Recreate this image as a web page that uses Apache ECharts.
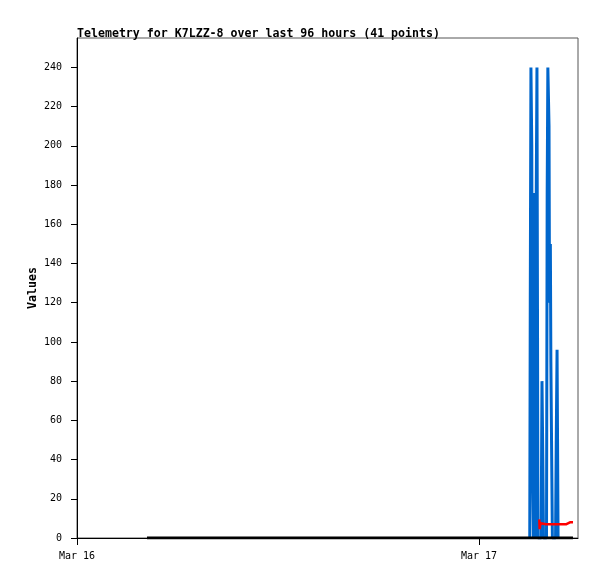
<!DOCTYPE html>
<html>
<head>
<meta charset="utf-8">
<script src="https://cdn.jsdelivr.net/npm/echarts@6/dist/echarts.min.js"></script>
<style>
  html, body { margin: 0; padding: 0; background: #fff; }
  #chart { width: 597px; height: 579px; }
</style>
</head>
<body>
<div id="chart"></div>
<script>
// hours since Mar 16 00:00
const blueHours = [27.03, 27.06, 27.10, 27.15, 27.19, 27.25, 27.30, 27.36, 27.42, 27.46, 27.52,
  27.71, 27.76, 27.81, 27.85, 28.03, 28.07, 28.11, 28.18, 28.21, 28.26, 28.29, 28.35, 28.38,
  28.57, 28.61, 28.66, 28.69, 28.72];
const blueValues = [0, 120, 240, 200, 40, 0, 176, 0, 180, 240, 0,
  0, 80, 40, 0, 0, 176, 240, 210, 120, 150, 90, 30, 0,
  0, 48, 96, 48, 0];

const redHours = [27.60, 27.62, 27.67, 27.76, 28.00, 28.30, 28.60, 28.90, 29.19, 29.31, 29.43, 29.61];
const redValues = [9.5, 4.5, 7.5, 7, 7, 7, 7, 7, 7, 7.5, 8, 8];

const blackHours = [4.18, 27.03, 27.60, 28.30, 29.00, 29.61];
const blackValues = [0, 0, 0, 0, 0, 0];

const xTickHours = [0, 24];
const xTickLabels = ['Mar 16', 'Mar 17'];
const yTicks = [0, 20, 40, 60, 80, 100, 120, 140, 160, 180, 200, 220, 240];

const chart = echarts.init(document.getElementById('chart'));
const mono = 'DejaVu Sans Mono';

function pairs(xs, ys) {
  return xs.map((x, i) => [x, ys[i]]);
}

chart.setOption({
  animation: false,
  title: {
    text: 'Telemetry for K7LZZ-8 over last 96 hours (41 points)',
    left: 72,
    top: 23,
    textStyle: { fontFamily: mono, fontSize: 11.6, fontWeight: 'bold', color: '#000' }
  },
  grid: {
    left: 77, right: 19, top: 38, bottom: 41,
    show: true, borderColor: '#555', borderWidth: 1
  },
  xAxis: {
    type: 'value',
    min: 0,
    max: 29.91,
    axisLine: { show: true, lineStyle: { color: '#000' } },
    axisTick: { show: true, length: 7, customValues: xTickHours, lineStyle: { color: '#000' } },
    axisLabel: {
      customValues: xTickHours,
      margin: 13,
      fontFamily: mono, fontSize: 10, color: '#000',
      formatter: v => xTickLabels[xTickHours.indexOf(v)] || ''
    },
    splitLine: { show: false }
  },
  yAxis: {
    type: 'value',
    min: 0,
    max: 255,
    name: 'Values',
    nameLocation: 'middle',
    nameGap: 38,
    nameMoveOverlap: false,
    nameTextStyle: { fontFamily: mono, fontSize: 11.6, fontWeight: 'bold', color: '#000' },
    axisLine: { show: true, lineStyle: { color: '#000' } },
    axisTick: { show: true, length: 6, customValues: yTicks, lineStyle: { color: '#000' } },
    axisLabel: { customValues: yTicks, margin: 15, fontFamily: mono, fontSize: 10, color: '#000' },
    splitLine: { show: false }
  },
  series: [
    {
      type: 'line', showSymbol: false, symbol: 'none',
      data: pairs(blueHours, blueValues),
      lineStyle: { color: '#0066cc', width: 3, cap: 'butt', join: 'bevel' }
    },
    {
      type: 'line', showSymbol: false, symbol: 'none',
      data: pairs(redHours, redValues),
      lineStyle: { color: '#ff0000', width: 2.5 }
    },
    {
      type: 'line', showSymbol: false, symbol: 'none',
      data: pairs(blackHours, blackValues),
      lineStyle: { color: '#000', width: 3 }
    }
  ]
});
</script>
</body>
</html>
